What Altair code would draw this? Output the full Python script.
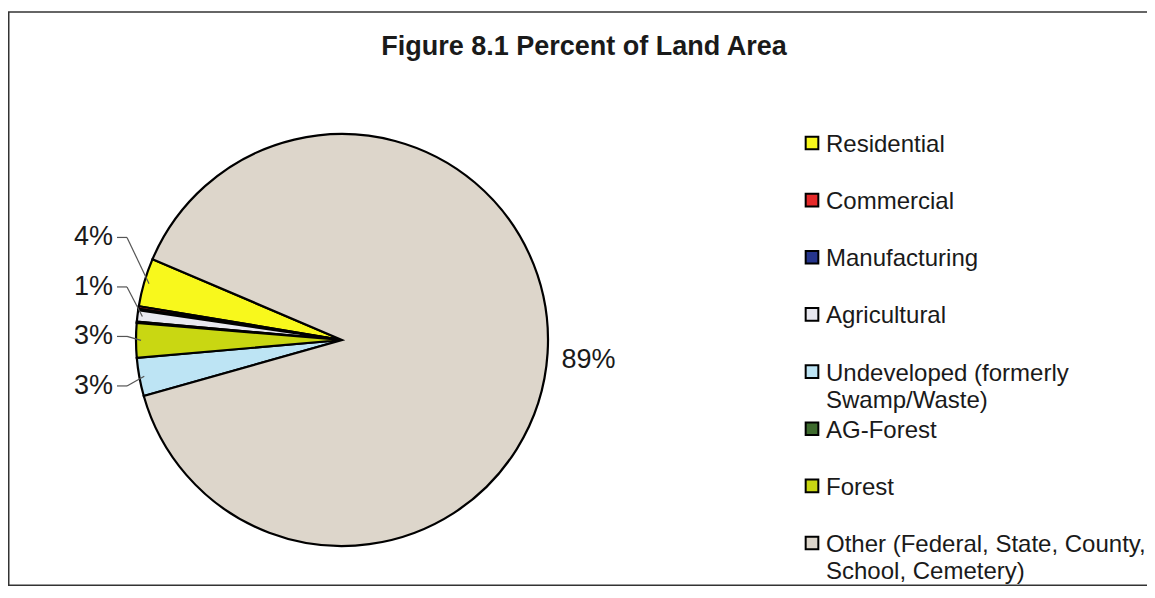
import math
import altair as alt
import pandas as pd

# ---------------- data ----------------
categories = [
    "Residential",
    "Commercial",
    "Manufacturing",
    "Agricultural",
    "Undeveloped (formerly Swamp/Waste)",
    "AG-Forest",
    "Forest",
    "Other (Federal, State, County, School, Cemetery)",
]
legend_labels = [
    "Residential",
    "Commercial",
    "Manufacturing",
    "Agricultural",
    "Undeveloped (formerly\nSwamp/Waste)",
    "AG-Forest",
    "Forest",
    "Other (Federal, State, County,\nSchool, Cemetery)",
]
values = [3.8, 0.2, 0.1, 0.9, 3.0, 0.1, 2.7, 89.2]   # percent of land area
pie_order = [7, 6, 5, 4, 1, 3, 2, 0]                 # clockwise drawing order
colors = ["#F8F81C", "#E62A2A", "#26358C", "#E8E8F0",
          "#BDE4F4", "#3E6B2E", "#C9D712", "#DDD6CB"]
title_text = "Figure 8.1 Percent of Land Area"

# ---------------- layout ----------------
FONT = "Liberation Sans"
W, H = 1139, 578
CX, CY, R = 334, 332, 206
START = math.radians(293.1)
LABEL_R = 255
GAP = 49.5
LABEL_X = CX - 229
LEG_X, LEG_TX = 804, 818
LEG_Y0, LEG_STEP = 135, 57.14

df = pd.DataFrame({
    "category": categories,
    "legend_label": legend_labels,
    "value": values,
    "pie_order": pie_order,
    "legend_idx": list(range(len(categories))),
})

color = alt.Color("category:N", scale=alt.Scale(domain=categories, range=colors), legend=None)

base = (
    alt.Chart(df)
    .transform_window(end="sum(value)", sort=[alt.SortField("pie_order")], frame=[None, 0])
    .transform_calculate(start="datum.end - datum.value")
    .transform_calculate(mid=f"{START} + (datum.start + datum.end) * PI / 100")
)

pie = base.mark_arc(outerRadius=R, stroke="black", strokeWidth=2.2).encode(
    theta=alt.Theta("start:Q", stack=None,
                    scale=alt.Scale(domain=[0, 100], range=[START, START + 2 * math.pi])),
    theta2="end:Q",
    color=color,
    x=alt.value(CX),
    y=alt.value(CY),
)

left = (
    base.transform_filter("datum.value >= 0.5 && sin(datum.mid) < 0")
    .transform_calculate(nat=f"-{LABEL_R} * cos(datum.mid)")
    .transform_window(k="row_number()", sort=[alt.SortField("mid", order="descending")])
    .transform_calculate(v=f"datum.nat - {GAP} * datum.k")
    .transform_window(vmin="min(v)", sort=[alt.SortField("k")], frame=[0, None])
    .transform_calculate(
        ly=f"{CY} + datum.vmin + {GAP} * datum.k",
        lx=f"{LABEL_X}",
        lx1=f"{LABEL_X + 4}",
        lx2=f"{LABEL_X + 14}",
        ex=f"{CX} + {R - 5} * sin(datum.mid)",
        ey=f"{CY} - {R - 5} * cos(datum.mid)",
        label="format(datum.value / 100, '.0%')",
    )
)

left_text = left.mark_text(align="right", baseline="middle", fontSize=27, font=FONT,
                           color="#1a1a1a").encode(
    x=alt.X("lx:Q", scale=None, axis=None),
    y=alt.Y("ly:Q", scale=None, axis=None),
    text="label:N",
)
lead1 = left.mark_rule(color="#555555", strokeWidth=1.2).encode(
    x=alt.X("lx1:Q", scale=None, axis=None), x2="lx2:Q",
    y=alt.Y("ly:Q", scale=None, axis=None), y2="ly:Q",
)
lead2 = left.mark_rule(color="#555555", strokeWidth=1.2).encode(
    x=alt.X("lx2:Q", scale=None, axis=None), x2="ex:Q",
    y=alt.Y("ly:Q", scale=None, axis=None), y2="ey:Q",
)

right = (
    base.transform_filter("datum.value >= 0.5 && sin(datum.mid) > 0")
    .transform_calculate(
        rx=f"{CX} + 220 * sin(datum.mid)",
        ry=f"{CY} - 220 * cos(datum.mid)",
        label="format(datum.value / 100, '.0%')",
    )
    .mark_text(align="left", baseline="middle", dy=6, fontSize=27, font=FONT, color="#1a1a1a")
    .encode(
        x=alt.X("rx:Q", scale=None, axis=None),
        y=alt.Y("ry:Q", scale=None, axis=None),
        text="label:N",
    )
)

leg = alt.Chart(df).transform_calculate(legend_y=f"{LEG_Y0} + datum.legend_idx * {LEG_STEP}")
leg_sym = leg.mark_square(size=160, stroke="black", strokeWidth=2, opacity=1).encode(
    x=alt.value(LEG_X),
    y=alt.Y("legend_y:Q", scale=None, axis=None),
    color=color,
)
leg_txt = leg.mark_text(align="left", baseline="top", dy=-10, fontSize=24, font=FONT,
                        lineBreak="\n", lineHeight=27, color="#1a1a1a").encode(
    x=alt.value(LEG_TX),
    y=alt.Y("legend_y:Q", scale=None, axis=None),
    text="legend_label:N",
)

title = alt.Chart(pd.DataFrame({"t": [title_text]})).mark_text(
    align="center", baseline="alphabetic", fontSize=27, fontWeight="bold", font=FONT,
    color="#1a1a1a",
).encode(x=alt.value(576), y=alt.value(47), text="t:N")

border_top = alt.Chart(pd.DataFrame({"a": [0]})).mark_rule(color="#333333", strokeWidth=1.5).encode(
    x=alt.value(0), x2=alt.value(W + 10), y=alt.value(4))
border_left = alt.Chart(pd.DataFrame({"a": [0]})).mark_rule(color="#333333", strokeWidth=1.5).encode(
    x=alt.value(0.75), y=alt.value(4), y2=alt.value(H))
border_bottom = alt.Chart(pd.DataFrame({"a": [0]})).mark_rule(color="#333333", strokeWidth=1.5).encode(
    x=alt.value(0), x2=alt.value(W + 10), y=alt.value(H - 0.75))

chart = (
    alt.layer(pie, lead1, lead2, left_text, right, leg_sym, leg_txt, title,
              border_top, border_left, border_bottom)
    .properties(width=W, height=H, padding=0, autosize=alt.AutoSizeParams(type="none"),
                background="white")
    .configure_view(stroke=None)
)

chart.save("out.html", embed_options={"renderer": "svg", "actions": False})
